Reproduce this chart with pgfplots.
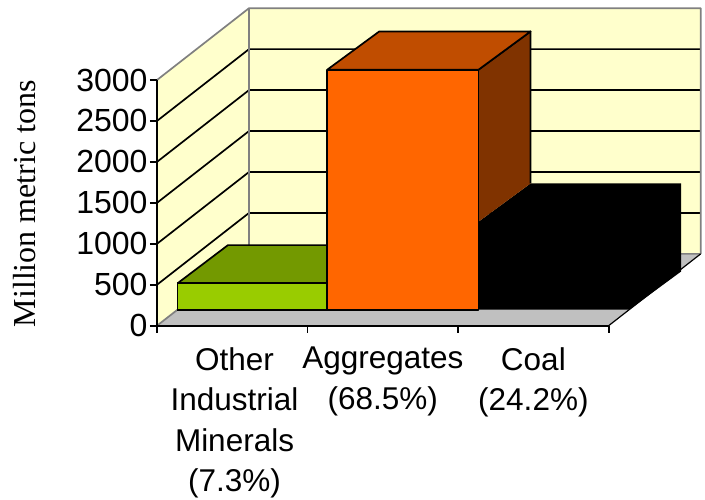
\documentclass[border=0pt]{standalone}
\usepackage{pgfplots}
\pgfplotsset{compat=1.18}
\usepackage{fontspec}
\setmainfont{Liberation Sans}
\newfontfamily\timesfont{Liberation Serif}
\definecolor{wall}{HTML}{FFFFCC}
\definecolor{floorgrey}{HTML}{C0C0C0}
\definecolor{edgegrey}{HTML}{808080}
\definecolor{limefront}{HTML}{99CC00}
\definecolor{limetop}{HTML}{739900}
\definecolor{orangefront}{HTML}{FF6600}
\definecolor{orangetop}{HTML}{C04D00}
\definecolor{orangeside}{HTML}{803300}
% Depth planes of the bars inside the floor
\newcommand{\dA}{0.2228}
\newcommand{\dB}{0.755}
% A closed filled polygon in (category, depth, value) coordinates
\newcommand{\face}[2]{\addplot3[line width=1.7pt,#1,mark=none,line join=round,forget plot] coordinates {#2};}
\begin{document}
\begin{tikzpicture}[x=1pt,y=1pt]
\useasboundingbox (0,0) rectangle (705,499);
% Box of the chart: category along x, depth along y, value along z
\begin{axis}[
  at={(157pt,173.3pt)},anchor=origin,
  x={(150.55pt,0pt)},y={(92pt,71.8pt)},z={(0pt,0.0819pt)},
  xmin=0,xmax=3,ymin=0,ymax=1,zmin=0,zmax=3000,
  hide axis,clip=false]
% walls
\face{fill=wall,draw=none}{(0,1,0)(3,1,0)(3,1,3000)(0,1,3000)(0,1,0)}
\face{fill=wall,draw=none}{(0,0,0)(0,1,0)(0,1,3000)(0,0,3000)(0,0,0)}
% gridlines on both walls
\foreach \v in {500,1000,1500,2000,2500}{
  \edef\tmp{\noexpand\face{draw=black}{(0,0,\v)(0,1,\v)(3,1,\v)}}\tmp
}
% wall edges
\face{draw=edgegrey}{(0,0,3000)(0,1,3000)(3,1,3000)(3,1,0)}
\face{draw=edgegrey}{(0,1,0)(0,1,3000)}
% floor
\face{fill=floorgrey,draw=none}{(0,0,0)(3,0,0)(3,1,0)(0,1,0)(0,0,0)}
\face{draw=edgegrey}{(0,0,0)(0,1,0)(3,1,0)}
\face{draw=black,line width=1.2pt}{(3,0,0)(3,1,0)}
% bar: other industrial minerals
\face{fill=limetop,draw=black}{(0,\dA,322)(0.01,\dB,322)(1,\dB,322)(1,\dA,322)(0,\dA,322)}
\face{fill=limefront,draw=black}{(0,\dA,0)(0.995,\dA,0)(0.995,\dA,322)(0,\dA,322)(0,\dA,0)}
% bar: coal
\face{fill=black,draw=none}{(2,\dA,0)(3,\dA,0)(3.02,\dB,0)(3.02,\dB,1075)(2.02,\dB,1075)(2,\dA,1075)(2,\dA,0)}
% bar: aggregates
\face{fill=orangeside,draw=none}{(2,\dA,2931)(2.02,\dB,2931)(2.02,\dB,1075)(2,\dA,1075)(2,\dA,2931)}
\face{draw=black}{(2,\dA,2931)(2.02,\dB,2931)(2.02,\dB,1075)}
\face{fill=orangetop,draw=black}{(0.995,\dA,2931)(1.015,\dB,2931)(2.02,\dB,2931)(2,\dA,2931)(0.995,\dA,2931)}
\face{fill=orangefront,draw=black}{(0.995,\dA,0)(2,\dA,0)(2,\dA,2931)(0.995,\dA,2931)(0.995,\dA,0)}
\end{axis}
% Front frame with the tick marks and their labels
\begin{axis}[
  at={(157pt,173.3pt)},anchor=origin,
  width=451.65pt,height=245.7pt,scale only axis,
  xmin=0,xmax=3,ymin=0,ymax=3000,
  axis x line=bottom,axis y line=left,
  axis line style={black,line width=1.7pt,-},
  xtick={0.515,1.5,2.5},
  xticklabels={{Other\\Industrial\\Minerals\\(7.3\%)},{Aggregates\\(68.5\%)},{Coal\\(24.2\%)}},
  minor xtick={0,1,2,3},
  major x tick style={draw=none},
  minor tick style={black,line width=1.7pt},
  tick align=outside,
  minor tick length=7pt,
  ytick={0,500,1000,1500,2000,2500,3000},
  y tick style={black,line width=1.7pt},
  major tick length=7pt,
  /pgf/number format/assume math mode=true,
  scaled y ticks=false,
  yticklabel style={font=\fontsize{32}{36}\selectfont,/pgf/number format/1000 sep={},xshift=1pt},
  xticklabel style={font=\fontsize{31.5}{40.5}\selectfont,align=center,yshift=-11pt},
  ylabel={\timesfont Million metric tons},
  ylabel style={font=\fontsize{32}{36}\selectfont,at={(axis description cs:-0.294,0.497)},anchor=center},
]
\end{axis}
\end{tikzpicture}
\end{document}
